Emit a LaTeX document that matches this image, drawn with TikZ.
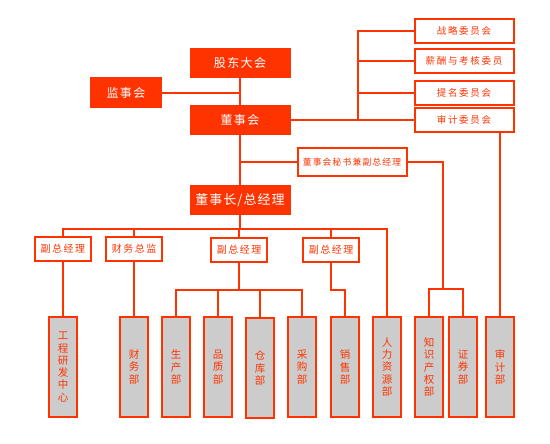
\documentclass[tikz,border=0pt]{standalone}
\usepackage{fontspec}
\setmainfont{Noto Sans CJK SC}
\definecolor{rd}{HTML}{FF3300}
\definecolor{gr}{HTML}{CCCCCC}
\begin{document}
\begin{tikzpicture}[x=1pt,y=-1pt,line width=2pt,
  solidbox/.style={fill=rd,draw=rd,text=white,minimum width=99pt,minimum height=28pt,inner sep=0pt,
    font=\fontsize{12}{12}\selectfont\addfontfeature{LetterSpace=12}},
  combox/.style={fill=white,draw=rd,text=rd,minimum width=99pt,minimum height=24pt,inner sep=0pt,
    font=\fontsize{9.5}{9.5}\selectfont\addfontfeature{LetterSpace=18}},
  midbox/.style={fill=white,draw=rd,text=rd,minimum width=56pt,minimum height=24pt,inner sep=0pt,
    font=\fontsize{10}{10}\selectfont\addfontfeature{LetterSpace=15}},
  deptbox/.style={fill=gr,draw=rd,text=rd,minimum width=28pt,minimum height=100pt,inner sep=0pt,
    align=center,font=\fontsize{10.5}{12.3}\selectfont},
  conn/.style={draw=rd,line width=2pt}]
\useasboundingbox (0,0) rectangle (550,444);

% top level
\node[solidbox] (gd) at (240,63) {股东大会};
\node[solidbox,minimum width=70pt,minimum height=29pt] (js) at (126,93) {监事会};
\node[solidbox] (dsh) at (240,120) {董事会};
\node[solidbox,font=\fontsize{13}{13}\selectfont\addfontfeature{LetterSpace=8}] (dz) at (240,200) {董事长/总经理};

% committees
\node[combox] (zl) at (464,31) {战略委员会};
\node[combox] (xc) at (464,61) {薪酬与考核委员};
\node[combox] (tm) at (464,93) {提名委员会};
\node[combox] (sj) at (464,120) {审计委员会};

% secretary
\node[midbox,minimum width=109pt,minimum height=28pt,font=\fontsize{8.8}{8.8}\selectfont\addfontfeature{LetterSpace=13}] (ms) at (352,162) {董事会秘书兼副总经理};

% second level
\node[midbox] (f1) at (63,249) {副总经理};
\node[midbox] (cw) at (134,249) {财务总监};
\node[midbox] (f2) at (239,250) {副总经理};
\node[midbox] (f3) at (331,250) {副总经理};

% departments
\node[deptbox] (gc) at (63,367) {工\\程\\研\\发\\中\\心};
\node[deptbox] (cwb) at (134,367) {财\\务\\部};
\node[deptbox] (sc) at (176,367) {生\\产\\部};
\node[deptbox] (pz) at (218,367) {品\\质\\部};
\node[deptbox] (ck) at (260,368) {仓\\库\\部};
\node[deptbox] (cg) at (302,367) {采\\购\\部};
\node[deptbox] (xs) at (345,367) {销\\售\\部};
\node[deptbox] (rl) at (387,367) {人\\力\\资\\源\\部};
\node[deptbox] (zs) at (429,367) {知\\识\\产\\权\\部};
\node[deptbox] (zq) at (463,367) {证\\券\\部};
\node[deptbox] (sjb) at (500,367) {审\\计\\部};

% junction coordinates
\coordinate (cb) at (358,120);
\coordinate (b1) at (387,229);
\coordinate (j2) at (239,290);
\coordinate (j3) at (331,290);
\coordinate (j4) at (443,289);

% connectors
\draw[conn] (gd.south) -- (dsh.north);
\draw[conn] (js.east) -- (js.east -| gd.south);
\draw[conn] (dsh.east) -- (sj.west);
\draw[conn] (zl.west) -| (cb);
\draw[conn] (xc.west) -- (xc.west -| cb);
\draw[conn] (tm.west) -- (tm.west -| cb);
\draw[conn] (dsh.south) -- (dz.north);
\draw[conn] (ms.west) -- (ms.west -| dsh.south);
\draw[conn] (sjb.north |- sj.south) -- (sjb.north);

\draw[conn] (dz.south) -- (dz.south |- b1);
\draw[conn] (f1.north) |- (b1) -- (rl.north);
\draw[conn] (cw.north) -- (cw.north |- b1);
\draw[conn] (f2.north) -- (f2.north |- b1);
\draw[conn] (f3.north) -- (f3.north |- b1);

\draw[conn] (f1.south) -- (gc.north);
\draw[conn] (cw.south) -- (cwb.north);
\draw[conn] (f2.south) -- (j2);
\draw[conn] (sc.north) |- (j2) -| (cg.north);
\draw[conn] (pz.north) -- (pz.north |- j2);
\draw[conn] (ck.north) -- (ck.north |- j2);
\draw[conn] (f3.south) -- (j3) -| (xs.north);
\draw[conn] (ms.east) -| (j4);
\draw[conn] (zs.north) |- (j4) -| (zq.north);
\end{tikzpicture}
\end{document}
